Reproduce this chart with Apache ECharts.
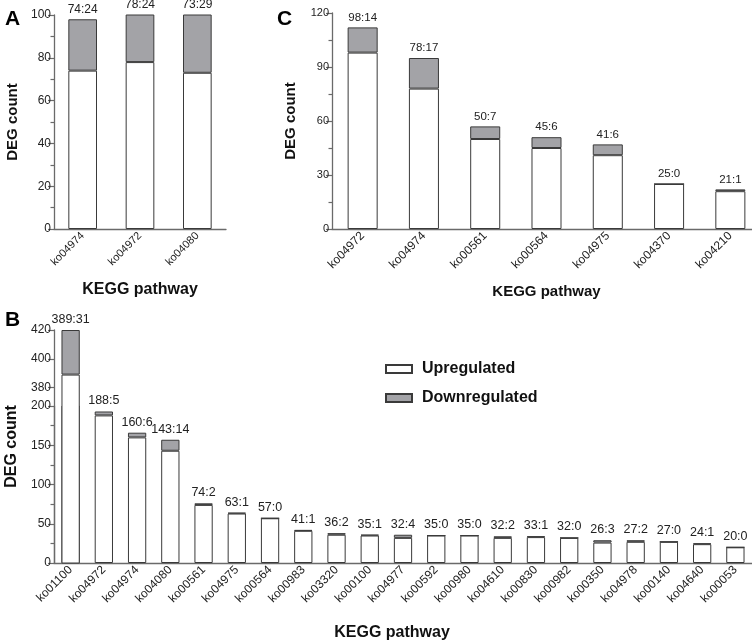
<!DOCTYPE html>
<html><head><meta charset="utf-8">
<script src="https://cdn.jsdelivr.net/npm/echarts@6/dist/echarts.min.js"></script>
<style>html,body{margin:0;padding:0;background:#fff}#c{width:752px;height:642px}</style>
</head><body><div id="c"></div>
<script>
// ---------- data ----------
const catsA = ['ko04974', 'ko04972', 'ko04080'];
const upA   = [74, 78, 73];
const downA = [24, 24, 29];

const catsC = ['ko04972', 'ko04974', 'ko00561', 'ko00564', 'ko04975', 'ko04370', 'ko04210'];
const upC   = [98, 78, 50, 45, 41, 25, 21];
const downC = [14, 17, 7, 6, 6, 0, 1];

const catsB = ['ko01100', 'ko04972', 'ko04974', 'ko04080', 'ko00561', 'ko04975', 'ko00564',
  'ko00983', 'ko03320', 'ko00100', 'ko04977', 'ko00592', 'ko00980', 'ko04610', 'ko00830',
  'ko00982', 'ko00350', 'ko04978', 'ko00140', 'ko04640', 'ko00053'];
const upB   = [389, 188, 160, 143, 74, 63, 57, 41, 36, 35, 32, 35, 35, 32, 33, 32, 26, 27, 27, 24, 20];
const downB = [31, 5, 6, 14, 2, 1, 0, 1, 2, 1, 4, 0, 0, 2, 1, 0, 3, 2, 0, 1, 0];

const B_LOWER_MAX = 200;      // lower segment of broken axis: 0..200
const B_UPPER_START = 380;    // upper segment of broken axis: 380..420
const B_UPPER_MAX = 420;
const upperTicksB = [380, 400, 420];
const upperMinorB = [390, 410];

// ---------- style ----------
const FONT = '"Liberation Sans", Arial, sans-serif';
const AX = '#6a6a6a';
const TXT = '#222';
const GREY = '#a3a3a7';
const BORDER = '#3a3a3a';

function yAxisBase(gi, extra) {
  return Object.assign({
    type: 'value', gridIndex: gi,
    axisLine: { show: true, lineStyle: { color: AX, width: 1.3 } },
    axisTick: { show: true, length: 6, lineStyle: { color: AX, width: 1.2 } },
    minorTick: { show: true, splitNumber: 2, length: 3.5, lineStyle: { color: AX, width: 1.2 } },
    splitLine: { show: false }, minorSplitLine: { show: false },
    axisLabel: { color: TXT, fontFamily: FONT, fontSize: 12, margin: 3 },
    nameLocation: 'middle', nameRotate: 90,
    nameTextStyle: { fontFamily: FONT, fontWeight: 'bold', fontSize: 15, color: '#111' }
  }, extra);
}
function xAxisBase(gi, cats, fs, extra) {
  return Object.assign({
    type: 'category', gridIndex: gi, data: cats,
    axisLine: { show: true, lineStyle: { color: AX, width: 1.3 } },
    axisTick: { show: false },
    axisLabel: { rotate: 45, color: TXT, fontFamily: FONT, fontSize: fs, margin: 5, interval: 0 },
    name: 'KEGG pathway', nameLocation: 'middle',
    nameTextStyle: { fontFamily: FONT, fontWeight: 'bold', fontSize: 16, color: '#111' }
  }, extra);
}
function pair(gi, stack, up, down, bw, fs, showFn) {
  return [
    { name: 'Upregulated', type: 'bar', xAxisIndex: gi, yAxisIndex: gi, stack: stack, data: up,
      barWidth: bw, clip: true,
      itemStyle: { color: '#fff', borderColor: BORDER, borderWidth: 1 } },
    { name: 'Downregulated', type: 'bar', xAxisIndex: gi, yAxisIndex: gi, stack: stack, data: down,
      barWidth: bw, clip: true,
      itemStyle: { color: GREY, borderColor: BORDER, borderWidth: 1 },
      label: { show: true, position: 'top', distance: 4, color: TXT, fontFamily: FONT, fontSize: fs,
        formatter: p => showFn(p.dataIndex) ? up[p.dataIndex] + ':' + down[p.dataIndex] : '' } }
  ];
}

const option = {
  animation: false,
  backgroundColor: '#fff',
  textStyle: { fontFamily: FONT },
  title: [
    { text: 'A', left: 0, top: 4, textStyle: { fontFamily: FONT, fontSize: 21, fontWeight: 'bold', color: '#000' } },
    { text: 'C', left: 272, top: 4, textStyle: { fontFamily: FONT, fontSize: 21, fontWeight: 'bold', color: '#000' } },
    { text: 'B', left: 0, top: 305, textStyle: { fontFamily: FONT, fontSize: 21, fontWeight: 'bold', color: '#000' } }
  ],
  legend: {
    data: ['Upregulated', 'Downregulated'], orient: 'vertical', left: 380, top: 356,
    icon: 'rect', itemWidth: 26, itemHeight: 8, itemGap: 13,
    selectedMode: false,
    textStyle: { fontFamily: FONT, fontSize: 16, fontWeight: 'bold', color: '#111', padding: [0, 0, 0, 5] }
  },
  grid: [
    { left: 54, top: 15, width: 172, height: 214, containLabel: false, outerBoundsMode: 'none' },
    { left: 332, top: 13, width: 429, height: 216, containLabel: false, outerBoundsMode: 'none' },
    { left: 54, top: 406, width: 698, height: 157, containLabel: false, outerBoundsMode: 'none' },
    { left: 54, top: 330, width: 698, height: 233, containLabel: false, outerBoundsMode: 'none' }
  ],
  xAxis: [
    xAxisBase(0, catsA, 11, { nameGap: 53 }),
    xAxisBase(1, catsC, 12, { nameGap: 55, nameTextStyle: { fontFamily: FONT, fontWeight: 'bold', fontSize: 15, color: '#111' } }),
    xAxisBase(2, catsB, 12, { nameGap: 62, nameTextStyle: { fontFamily: FONT, fontWeight: 'bold', fontSize: 16, color: '#111', padding: [0, 22, 0, 0] } }),
    xAxisBase(3, catsB, 12, { show: false })
  ],
  yAxis: [
    yAxisBase(0, { min: 0, max: 100, interval: 20, name: 'DEG count', nameGap: 34 }),
    yAxisBase(1, { min: 0, max: 120, interval: 30, name: 'DEG count', nameGap: 34,
      axisLabel: { color: TXT, fontFamily: FONT, fontSize: 11, margin: 3 } }),
    yAxisBase(2, { min: 0, max: B_LOWER_MAX, interval: 50 }),
    yAxisBase(3, { min: 258, max: B_UPPER_MAX, name: 'DEG count', nameGap: 34,
      nameTextStyle: { fontFamily: FONT, fontWeight: 'bold', fontSize: 16, color: '#111', padding: [0, 0, 0, 0] },
      minorTick: { show: false },
      axisTick: { show: true, length: 6, customValues: upperTicksB, lineStyle: { color: AX, width: 1.2 } },
      axisLabel: { color: TXT, fontFamily: FONT, fontSize: 12, margin: 3, customValues: upperTicksB } }),
    yAxisBase(3, { min: 258, max: B_UPPER_MAX, axisLine: { show: false }, minorTick: { show: false },
      axisTick: { show: true, length: 3.5, customValues: upperMinorB, lineStyle: { color: AX, width: 1.2 } },
      axisLabel: { show: false } })
  ],
  series: [].concat(
    pair(0, 'a', upA, downA, '50%', 12, () => true),
    pair(1, 'c', upC, downC, '49%', 11.5, () => true),
    pair(2, 'bl', upB, downB, '55%', 12.5, i => upB[i] + downB[i] <= B_LOWER_MAX),
    pair(3, 'bu', upB, downB, '55%', 12.5, i => upB[i] + downB[i] >= B_UPPER_START)
  )
};

const chart = echarts.init(document.getElementById('c'), null, { renderer: 'canvas' });
chart.setOption(option);
</script>
</body></html>
